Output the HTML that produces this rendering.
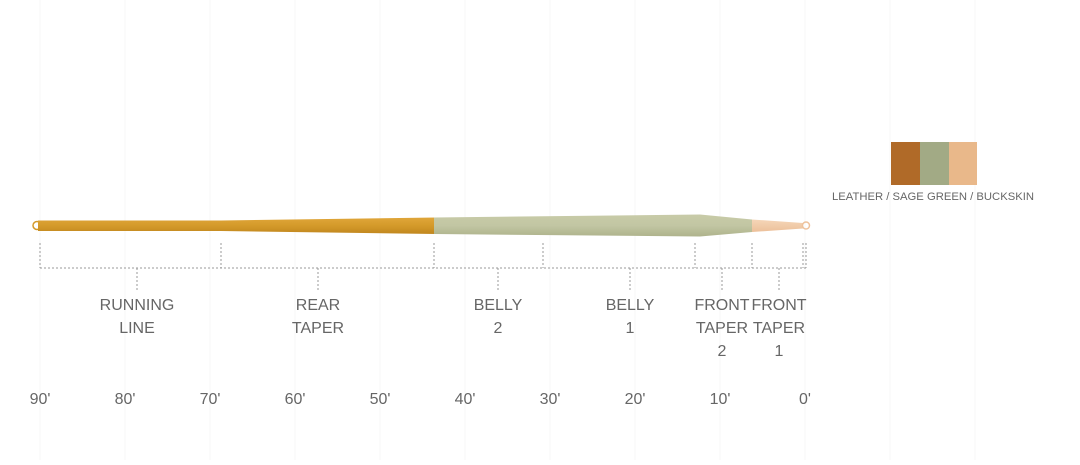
<!DOCTYPE html><html><head><style>
body{margin:0;background:#fff;width:1080px;height:460px;overflow:hidden}
svg text{font-family:"Liberation Sans",sans-serif;fill:#666}
</style></head><body>
<svg width="1080" height="460" xmlns="http://www.w3.org/2000/svg">
<defs>
<linearGradient id="o" x1="0" y1="0" x2="0" y2="1"><stop offset="0" stop-color="#e0a63a"/><stop offset=".5" stop-color="#d49a2a"/><stop offset="1" stop-color="#c0861e"/></linearGradient>
<linearGradient id="g" x1="0" y1="0" x2="0" y2="1"><stop offset="0" stop-color="#c8cba8"/><stop offset=".5" stop-color="#c2c6a3"/><stop offset="1" stop-color="#aeb38c"/></linearGradient>
<linearGradient id="p" x1="0" y1="0" x2="0" y2="1"><stop offset="0" stop-color="#f5d6b8"/><stop offset="1" stop-color="#ecc09a"/></linearGradient>
</defs>
<g stroke="#f7f7f7" stroke-width="1">
<line x1="40" y1="0" x2="40" y2="460"/><line x1="125" y1="0" x2="125" y2="460"/><line x1="210" y1="0" x2="210" y2="460"/><line x1="295" y1="0" x2="295" y2="460"/><line x1="380" y1="0" x2="380" y2="460"/><line x1="465" y1="0" x2="465" y2="460"/><line x1="550" y1="0" x2="550" y2="460"/><line x1="635" y1="0" x2="635" y2="460"/><line x1="720" y1="0" x2="720" y2="460"/><line x1="805" y1="0" x2="805" y2="460"/><line x1="890" y1="0" x2="890" y2="460"/><line x1="975" y1="0" x2="975" y2="460"/>
</g>
<circle cx="37" cy="225.5" r="4" fill="none" stroke="#d49a2a" stroke-width="1.5"/>
<path d="M38,220.5 L221,220.5 L436,217.5 L436,234 L221,231 L38,231 Z" fill="url(#o)"/>
<path d="M434,217.5 L700,214.5 L752,219.5 L752,232 L700,236.5 L434,234 Z" fill="url(#g)"/>
<path d="M752,219.5 L803,223 L803,228.5 L752,232 Z" fill="url(#p)"/>
<circle cx="806" cy="225.5" r="3.5" fill="none" stroke="#eec29c" stroke-width="1.5"/>
<g stroke="#999" stroke-width="1" stroke-dasharray="2,2" fill="none">
<line x1="40" y1="268" x2="806" y2="268"/>
<line x1="40" y1="243" x2="40" y2="268"/><line x1="221" y1="243" x2="221" y2="268"/><line x1="434" y1="243" x2="434" y2="268"/><line x1="543" y1="243" x2="543" y2="268"/><line x1="695" y1="243" x2="695" y2="268"/><line x1="752" y1="243" x2="752" y2="268"/><line x1="803" y1="243" x2="803" y2="268"/><line x1="806" y1="243" x2="806" y2="268"/>
<line x1="137" y1="268" x2="137" y2="292"/><line x1="318" y1="268" x2="318" y2="292"/><line x1="498" y1="268" x2="498" y2="292"/><line x1="630" y1="268" x2="630" y2="292"/><line x1="722" y1="268" x2="722" y2="292"/><line x1="779" y1="268" x2="779" y2="292"/>
</g>
<g font-size="16" text-anchor="middle">
<text x="137" y="310">RUNNING</text><text x="137" y="333">LINE</text>
<text x="318" y="310">REAR</text><text x="318" y="333">TAPER</text>
<text x="498" y="310">BELLY</text><text x="498" y="333">2</text>
<text x="630" y="310">BELLY</text><text x="630" y="333">1</text>
<text x="722" y="310">FRONT</text><text x="722" y="333">TAPER</text><text x="722" y="356">2</text>
<text x="779" y="310">FRONT</text><text x="779" y="333">TAPER</text><text x="779" y="356">1</text>
</g>
<g font-size="16" text-anchor="middle">
<text x="40" y="404">90'</text><text x="125" y="404">80'</text><text x="210" y="404">70'</text><text x="295" y="404">60'</text><text x="380" y="404">50'</text><text x="465" y="404">40'</text><text x="550" y="404">30'</text><text x="635" y="404">20'</text><text x="720" y="404">10'</text><text x="805" y="404">0'</text>
</g>
<rect x="891" y="142" width="29" height="43" fill="#b06a28"/>
<rect x="920" y="142" width="29" height="43" fill="#a2aa85"/>
<rect x="949" y="142" width="28" height="43" fill="#e9b88a"/>
<text x="933" y="200" font-size="11" text-anchor="middle" textLength="202" lengthAdjust="spacingAndGlyphs">LEATHER / SAGE GREEN / BUCKSKIN</text>
</svg>
</body></html>
